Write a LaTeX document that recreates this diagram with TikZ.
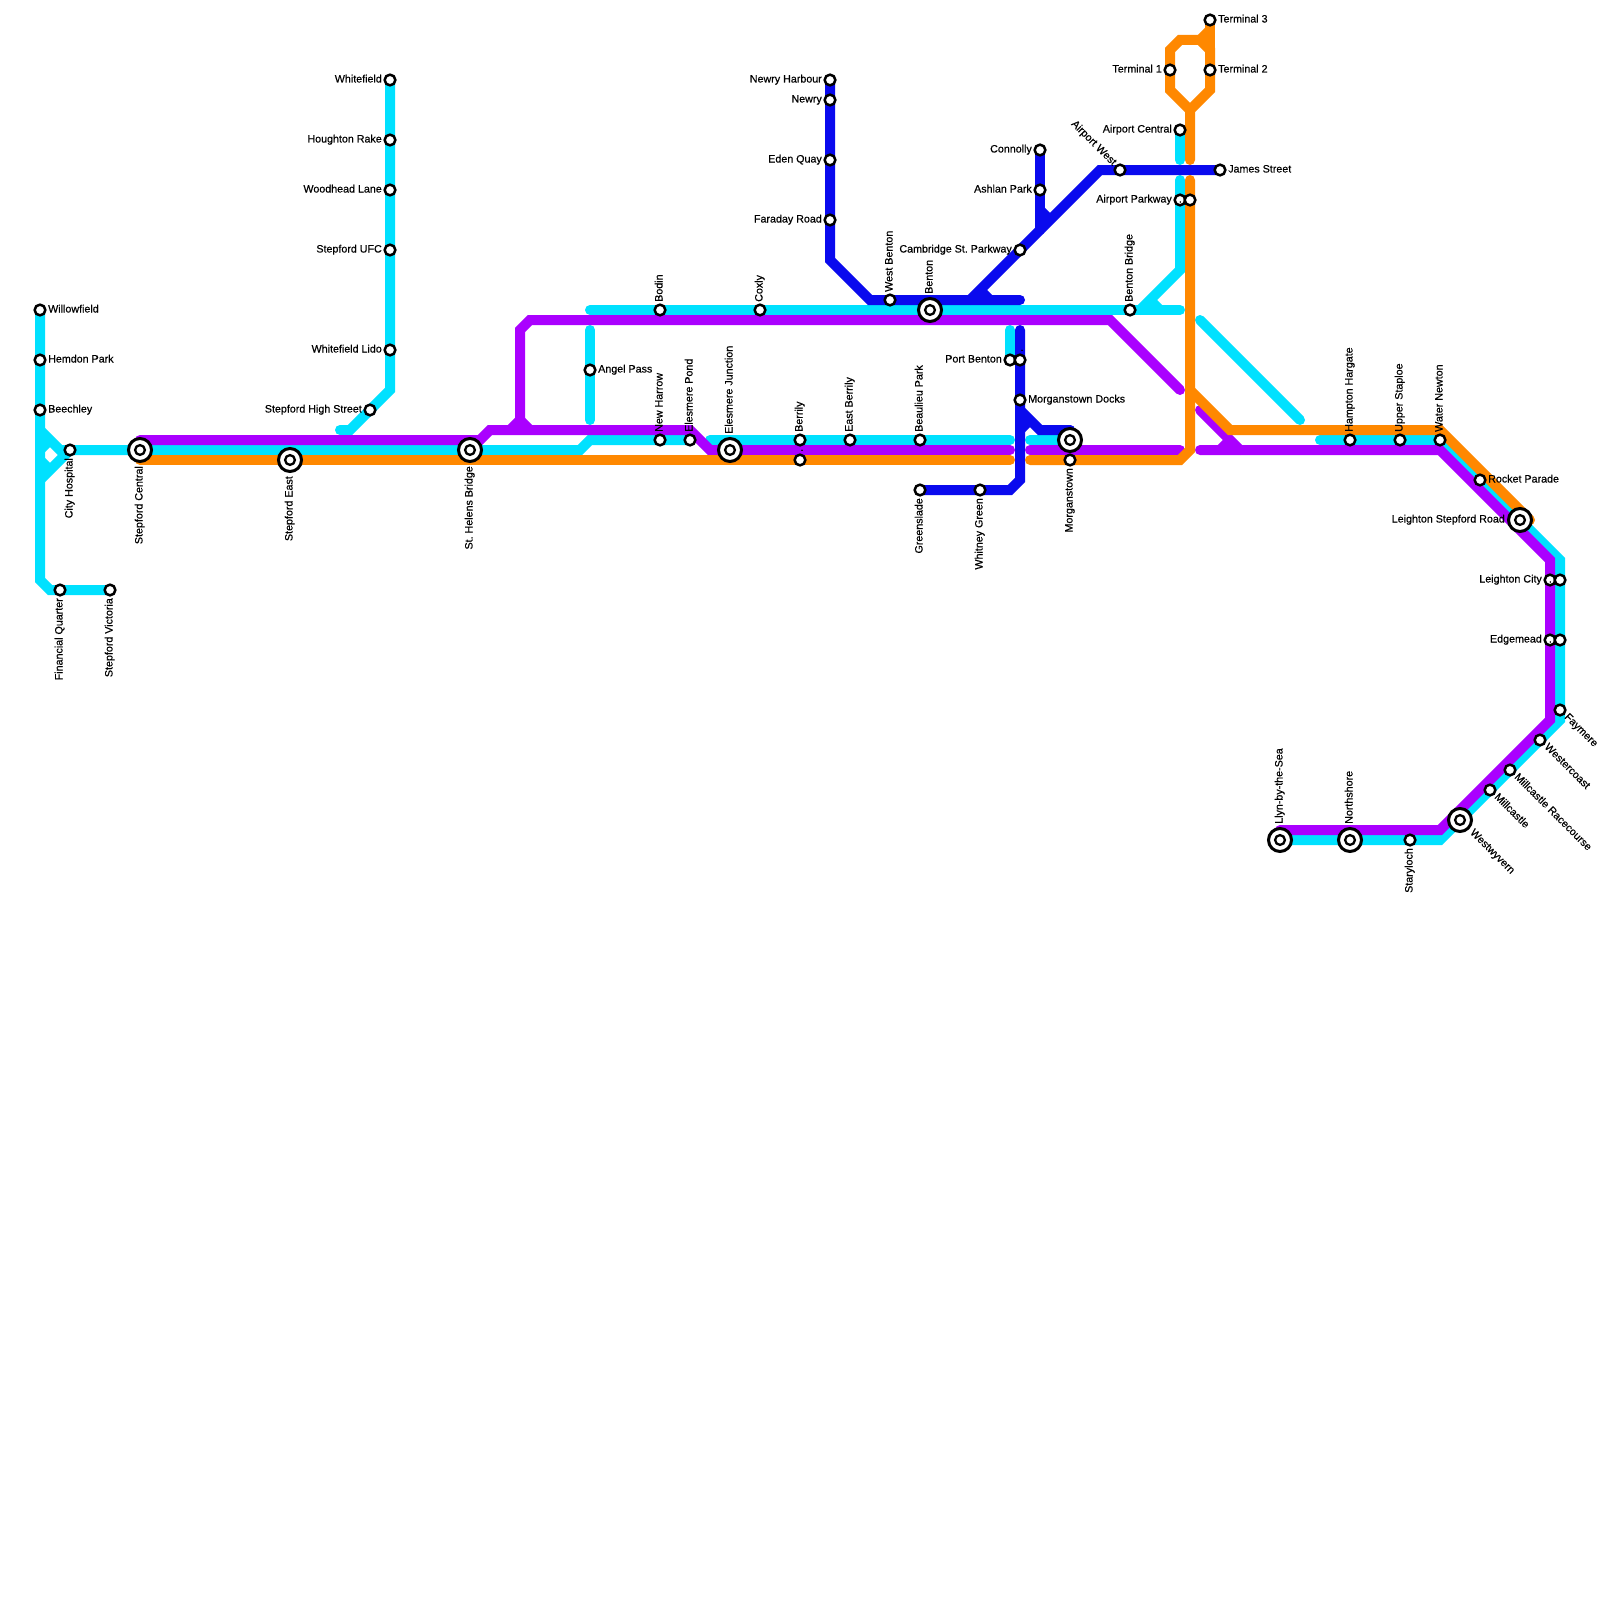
\documentclass[tikz,border=0pt]{standalone}
\usepackage{fontspec}
\setmainfont{Liberation Sans}
\newfontfamily\labfont[FakeBold=0.4]{Liberation Sans}
\usetikzlibrary{backgrounds}
\definecolor{lcyan}{RGB}{0,225,255}
\definecolor{lpurple}{RGB}{170,0,255}
\definecolor{lorange}{RGB}{255,136,0}
\definecolor{lblue}{RGB}{10,10,238}
\tikzset{
  stn/.style={circle,draw=black,fill=white,line width=2.5pt,minimum size=10.7pt,inner sep=0pt},
  hubo/.style={circle,draw=black,fill=white,line width=3pt,minimum size=23pt,inner sep=0pt},
  hubi/.style={circle,draw=black,fill=white,line width=2.3pt,minimum size=9.8pt,inner sep=0pt},
  lab/.style={inner sep=0pt,text=black,font=\labfont\frenchspacing\fontsize{10.7}{12}\selectfont},
  route/.style={line width=10pt,line cap=round,line join=miter,miter limit=4},
  flare/.style={line width=10pt,line cap=butt,line join=miter},
}
\newcommand\st[2]{\node[stn] (#1) at (#2) {};}
\newcommand\hb[2]{\node[hubo] (#1) at (#2) {}; \node[hubi] (#1-i) at (#2) {};}
\newcommand\lR[3][8]{\node[lab,rotate=0,anchor=base west] (#2-l) at ([xshift=#1pt,yshift=-2.5pt]#2.center) {#3};}
\newcommand\lL[3][8]{\node[lab,rotate=0,anchor=base east] (#2-l) at ([xshift=-#1pt,yshift=-2.5pt]#2.center) {#3};}
\newcommand\lU[3][8]{\node[lab,rotate=90,anchor=base west] (#2-l) at ([xshift=2.5pt,yshift=#1pt]#2.center) {#3};}
\newcommand\lD[3][8]{\node[lab,rotate=90,anchor=base east] (#2-l) at ([xshift=2.5pt,yshift=-#1pt]#2.center) {#3};}
\newcommand\lDR[3][8]{\node[lab,rotate=-45,anchor=base west] (#2-l) at ([shift={(-45:#1pt)},xshift=-1.77pt,yshift=-1.77pt]#2.center) {#3};}
\newcommand\lUL[3][8]{\node[lab,rotate=-45,anchor=base east] (#2-l) at ([shift={(135:#1pt)},xshift=-1.77pt,yshift=-1.77pt]#2.center) {#3};}
\begin{document}
\begin{tikzpicture}[x=1pt,y=-1pt]
\useasboundingbox (0,0) rectangle (1600,1600);
% waypoints
\foreach \x/\y in {40/430,60/450,40/480,40/580,50/590,40/450,50/440,40/460,50/470,580/450,590/440,690/440,390/390,350/430,340/430,
  590/330,590/420,590/310,1180/310,710/440,1010/440,1030/440,1010/330,1180/160,1180/180,1180/270,1140/310,
  1150/300,1160/310,1200/320,1300/420,1320/440,1560/560,1560/720,1440/840,
  830/260,870/300,1020/300,970/300,1100/170,980/290,990/300,1040/230,1040/210,1050/220,1020/330,1020/480,1010/490,
  1020/410,1040/430,1070/430,1020/430,1030/420,
  140/440,480/440,490/430,690/430,710/450,1010/450,1030/450,1180/450,1200/450,1440/450,1550/560,1550/720,1440/830,1280/830,
  510/430,520/420,530/430,520/330,530/320,1110/320,1180/390,1200/410,1240/450,1220/450,1230/440,
  140/460,1010/460,1030/460,1180/460,1190/450,1190/180,1190/160,1190/110,1170/90,1170/50,1180/40,1200/40,1210/50,1210/90,1210/30,
  1190/390,1230/430,1440/430,1530/520}
  {\coordinate (p\x-\y) at (\x,\y);}
% stations and labels
\st{willow}{40,310}\lR{willow}{Willowfield}
\st{hemdon}{40,360}\lR{hemdon}{Hemdon Park}
\st{beech}{40,410}\lR{beech}{Beechley}
\st{cityh}{70,450}\lD{cityh}{City Hospital}
\st{finq}{60,590}\lD{finq}{Financial Quarter}
\st{stepv}{110,590}\lD{stepv}{Stepford Victoria}
\hb{stepc}{140,450}\lD[16]{stepc}{Stepford Central}
\hb{stepe}{290,460}\lD[16]{stepe}{Stepford East}
\hb{sthel}{470,450}\lD[16]{sthel}{St. Helens Bridge}
\st{whitef}{390,80}\lL{whitef}{Whitefield}
\st{hought}{390,140}\lL{hought}{Houghton Rake}
\st{woodh}{390,190}\lL{woodh}{Woodhead Lane}
\st{sufc}{390,250}\lL{sufc}{Stepford UFC}
\st{wlido}{390,350}\lL{wlido}{Whitefield Lido}
\st{shs}{370,410}\lL{shs}{Stepford High Street}
\st{angel}{590,370}\lR{angel}{Angel Pass}
\st{bodin}{660,310}\lU{bodin}{Bodin}
\st{coxly}{760,310}\lU{coxly}{Coxly}
\st{nharrow}{660,440}\lU{nharrow}{New Harrow}
\st{epond}{690,440}\lU{epond}{Elesmere Pond}
\hb{ejunc}{730,450}\lU[16]{ejunc}{Elesmere Junction}
\st{berrily}{800,440}\lU{berrily}{Berrily}
\st{berrilyb}{800,460}\lU{berrilyb}{.}
\st{eberrily}{850,440}\lU{eberrily}{East Berrily}
\st{beaul}{920,440}\lU{beaul}{Beaulieu Park}
\st{green}{920,490}\lD{green}{Greenslade}
\st{whitney}{980,490}\lD{whitney}{Whitney Green}
\st{newryh}{830,80}\lL{newryh}{Newry Harbour}
\st{newry}{830,100}\lL{newry}{Newry}
\st{eden}{830,160}\lL{eden}{Eden Quay}
\st{faraday}{830,220}\lL{faraday}{Faraday Road}
\st{wbenton}{890,300}\lU{wbenton}{West Benton}
\hb{benton}{930,310}\lU[16]{benton}{Benton}
\st{cambr}{1020,250}\lL{cambr}{Cambridge St. Parkway}
\st{connolly}{1040,150}\lL{connolly}{Connolly}
\st{ashlan}{1040,190}\lL{ashlan}{Ashlan Park}
\st{awest}{1120,170}\lUL{awest}{Airport West}
\st{james}{1220,170}\lR{james}{James Street}
\st{acentral}{1180,130}\lL{acentral}{Airport Central}
\st{aparkc}{1180,200}\lL{aparkc}{Airport Parkway}
\st{aparko}{1190,200}\lL{aparko}{.}
\st{term1}{1170,70}\lL{term1}{Terminal 1}
\st{term2}{1210,70}\lR{term2}{Terminal 2}
\st{term3}{1210,20}\lR{term3}{Terminal 3}
\st{bbridge}{1130,310}\lU{bbridge}{Benton Bridge}
\st{portc}{1010,360}\lL{portc}{Port Benton}
\st{portb}{1020,360}\lU{portb}{.}
\st{mdocks}{1020,400}\lR{mdocks}{Morganstown Docks}
\hb{morgh}{1070,440}
\st{morg}{1070,460}\lD{morg}{Morganstown}
\st{hampton}{1350,440}\lU{hampton}{Hampton Hargate}
\st{upper}{1400,440}\lU{upper}{Upper Staploe}
\st{water}{1440,440}\lU{water}{Water Newton}
\st{rocket}{1480,480}\lR{rocket}{Rocket Parade}
\hb{lsr}{1520,520}\lL[15]{lsr}{Leighton Stepford Road}
\st{lcityp}{1550,580}\lL{lcityp}{Leighton City}
\st{lcityc}{1560,580}\lL{lcityc}{.}
\st{edgep}{1550,640}\lL{edgep}{Edgemead}
\st{edgec}{1560,640}\lL{edgec}{.}
\st{faymere}{1560,710}\lDR{faymere}{Faymere}
\st{westc}{1540,740}\lDR{westc}{Westercoast}
\st{millr}{1510,770}\lDR{millr}{Millcastle Racecourse}
\st{mill}{1490,790}\lDR{mill}{Millcastle}
\hb{westw}{1460,820}\lDR[16]{westw}{Westwyvern}
\st{stary}{1410,840}\lD{stary}{Staryloch}
\hb{north}{1350,840}\lU[16]{north}{Northshore}
\hb{llyn}{1280,840}\lU[16]{llyn}{Llyn-by-the-Sea}
% lines, beneath the stations
\begin{scope}[on background layer]
\fill[white] (0,0) rectangle (1600,1600);
\begin{scope}[draw=lcyan]
\draw[route] (willow.center) -- (p40-580) -- (p50-590) -- (stepv.center);
\draw[route] (p40-430) -- (p60-450) -- (stepc.center) -- (sthel.center) -- (p580-450) -- (p590-440) -- (p690-440);
\draw[route] (p40-480) -- (cityh.center);
\draw[flare] (p40-450) -- (p50-440);
\draw[flare] (p40-460) -- (p50-470);
\draw[route] (whitef.center) -- (p390-390) -- (p350-430) -- (p340-430);
\draw[route] (p590-330) -- (p590-420);
\draw[route] (p590-310) -- (p1180-310);
\draw[route] (p710-440) -- (p1010-440);
\draw[route] (p1030-440) -- (morgh.center);
\draw[route] (p1010-330) -- (portc.center);
\draw[route] (acentral.center) -- (p1180-160);
\draw[route] (p1180-180) -- (p1180-270) -- (p1140-310);
\draw[flare] (p1150-300) -- (p1160-310);
\draw[route] (p1200-320) -- (p1300-420);
\draw[route] (p1320-440) -- (water.center) -- (p1560-560) -- (p1560-720) -- (p1440-840) -- (llyn.center);
\end{scope}
\begin{scope}[draw=lblue]
\draw[route] (newryh.center) -- (p830-260) -- (p870-300) -- (p1020-300);
\draw[route] (p970-300) -- (p1100-170) -- (james.center);
\draw[flare] (p980-290) -- (p990-300);
\draw[route] (connolly.center) -- (p1040-230);
\draw[flare] (p1040-210) -- (p1050-220);
\draw[route] (p1020-330) -- (p1020-480) -- (p1010-490) -- (green.center);
\draw[route] (p1020-410) -- (p1040-430) -- (p1070-430);
\draw[route] (p1070-430) -- (morgh.center);
\draw[flare] (p1020-430) -- (p1030-420);
\end{scope}
\begin{scope}[draw=lpurple]
\draw[route] (p140-440) -- (p480-440) -- (p490-430) -- (p690-430) -- (p710-450) -- (p1010-450);
\draw[route] (p1030-450) -- (p1180-450);
\draw[route] (p1200-450) -- (p1440-450) -- (p1550-560) -- (p1550-720) -- (p1440-830) -- (p1280-830);
\draw[flare] (p510-430) -- (p520-420) -- (p530-430);
\draw[route] (p520-420) -- (p520-330) -- (p530-320) -- (p1110-320) -- (p1180-390);
\draw[route] (p1200-410) -- (p1240-450);
\draw[flare] (p1220-450) -- (p1230-440);
\end{scope}
\begin{scope}[draw=lorange]
\draw[route] (p140-460) -- (p1010-460);
\draw[route] (p1030-460) -- (p1180-460) -- (p1190-450) -- (p1190-180);
\draw[route] (p1190-160) -- (p1190-110) -- (p1170-90) -- (p1170-50) -- (p1180-40) -- (p1200-40) -- (p1210-50) -- (p1210-90) -- (p1190-110);
\draw[route] (term3.center) -- (p1210-50);
\draw[flare] (p1200-40) -- (p1210-30);
\draw[route] (p1190-390) -- (p1230-430) -- (p1440-430) -- (p1530-520);
\end{scope}
\end{scope}
\end{tikzpicture}
\end{document}
